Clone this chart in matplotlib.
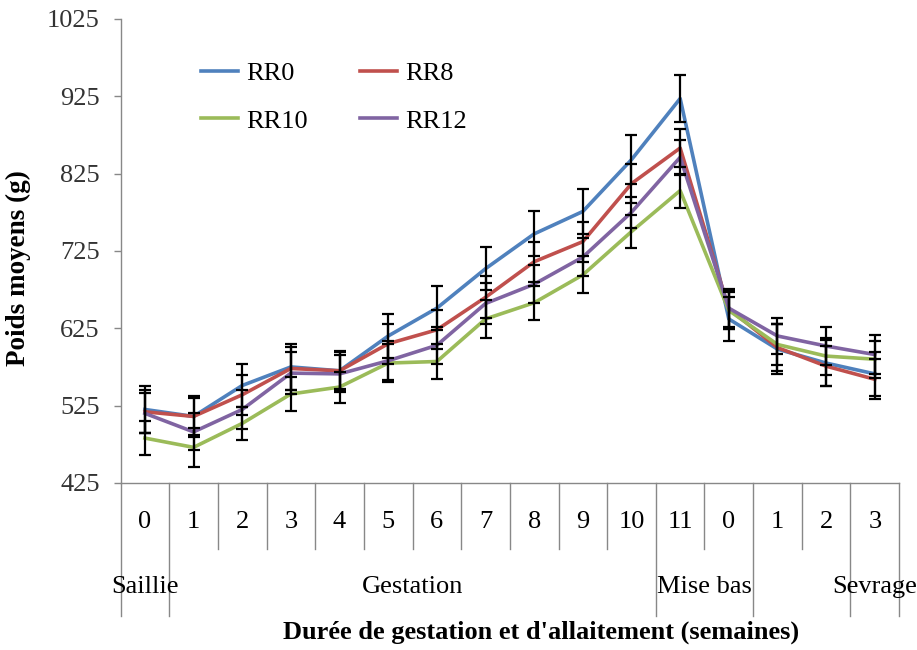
import matplotlib
matplotlib.use("Agg")
import matplotlib.pyplot as plt
import numpy as np

plt.rcParams["font.family"] = ["Liberation Serif", "DejaVu Serif"]

# weeks shown on the category axis
weeks = ["0", "1", "2", "3", "4", "5", "6", "7", "8", "9", "10", "11", "0", "1", "2", "3"]
# (label, first index, last index) of each group under the weeks
groups = [("Saillie", 0, 0), ("Gestation", 1, 10), ("Mise bas", 11, 12), ("", 13, 14), ("Sevrage", 15, 15)]

rr0 = [520, 511, 551, 575, 570, 615, 651, 702, 747, 776, 843, 922, 637, 598, 580, 566]
rr8 = [517, 511, 539, 573, 570, 605, 623, 665, 711, 737, 812, 858, 650, 600, 576, 559]
rr10 = [483, 471, 502, 540, 549, 580, 582, 637, 658, 694, 750, 803, 648, 604, 589, 585]
rr12 = [515, 491, 520, 567, 566, 583, 603, 657, 682, 717, 775, 846, 651, 615, 602, 591]

rr0_err = [30, 26, 28, 30, 25, 29, 28, 28, 29, 29, 32, 30, 29, 32, 30, 28]
rr8_err = [28, 24, 26, 28, 24, 26, 25, 27, 26, 26, 25, 24, 26, 30, 26, 26]
rr10_err = [22, 25, 21, 22, 20, 25, 22, 24, 22, 24, 21, 22, 24, 26, 24, 24]
rr12_err = [26, 24, 25, 27, 24, 25, 24, 26, 25, 25, 20, 23, 24, 23, 24, 25]

series = [
    ("RR0", rr0, rr0_err, "#4F81BD"),
    ("RR8", rr8, rr8_err, "#C0504D"),
    ("RR10", rr10, rr10_err, "#9BBB59"),
    ("RR12", rr12, rr12_err, "#8064A2"),
]

fig = plt.figure(figsize=(9.17, 6.5), dpi=100)
ax = fig.add_axes([0.1315, 0.257, 0.849, 0.714])

x = np.arange(len(weeks))
handles = {}
for name, vals, err, color in series:
    line, = ax.plot(x, vals, color=color, lw=2.6, label=name, zorder=2)
    handles[name] = line
    ax.errorbar(x, vals, yerr=err, fmt="none", ecolor="black", elinewidth=1.6,
                capsize=4, capthick=1.6, zorder=3)

ax.set_xlim(-0.5, len(weeks) - 0.5)
ax.set_ylim(425, 1025)
ax.set_yticks(np.arange(425, 1026, 100))
ax.tick_params(axis="y", direction="out", length=5, width=1, color="#888888",
               labelsize=19, labelcolor="#333333", pad=10)
ax.set_xticks([])

for side in ["top", "right"]:
    ax.spines[side].set_visible(False)
for side in ["left", "bottom"]:
    ax.spines[side].set_color("#888888")
    ax.spines[side].set_linewidth(1)

# category axis: week numbers and group labels with separators
tr = ax.get_xaxis_transform()
long_edges = {g[1] - 0.5 for g in groups} | {groups[-1][2] + 0.5}
for i in range(len(weeks) + 1):
    edge = i - 0.5
    y_end = -0.287 if edge in long_edges else -0.142
    ax.plot([edge, edge], [0, y_end], transform=tr, color="#888888", lw=1, clip_on=False)
for i, w in enumerate(weeks):
    ax.text(i, -0.085, w, transform=tr, ha="center", va="center", fontsize=19)
for label, a, b in groups:
    ax.text((a + b) / 2, -0.225, label, transform=tr, ha="center", va="center", fontsize=19)

ax.set_ylabel("Poids moyens (g)", fontsize=19.5, fontweight="bold")
ax.yaxis.set_label_coords(-0.115, 0.463)
fig.text(0.59, 0.027, "Durée de gestation et d'allaitement (semaines)",
         ha="center", va="center", fontsize=19, fontweight="bold")

# row-wise legend: RR0, RR8 on top, RR10, RR12 below
order = ["RR0", "RR10", "RR8", "RR12"]
ax.legend([handles[n] for n in order], order, loc="upper left",
          bbox_to_anchor=(0.09, 0.93), ncol=2, frameon=False,
          fontsize=19, handlelength=1.4, handletextpad=0.3, columnspacing=2.0,
          labelspacing=0.9, borderaxespad=0)

fig.savefig("out.png", dpi=100)
